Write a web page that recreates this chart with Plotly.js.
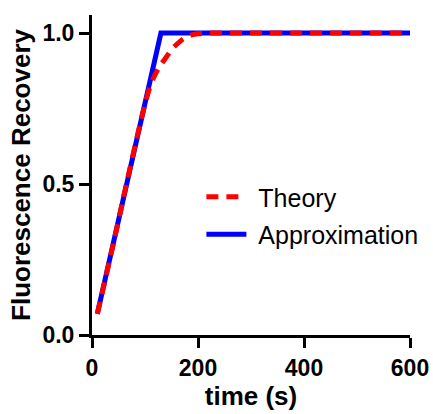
<!DOCTYPE html>
<html>
<head>
<meta charset="utf-8">
<script src="https://cdn.plot.ly/plotly-3.0.1.min.js"></script>
<style>html,body{margin:0;padding:0;background:#fff;}#chart{width:433px;height:414px;}</style>
</head>
<body>
<div id="chart"></div>
<script>
// Approximation (piecewise linear)
var approxTime = [10, 130, 600];
var approxValue = [0.07, 1.0, 1.0];
// Theory
var theoryTime = [10, 40, 70, 100, 110, 120, 130, 140, 150, 160, 170, 180, 190, 200, 220, 260, 300, 400, 500, 600];
var theoryValue = [0.07, 0.30, 0.54, 0.765, 0.825, 0.866, 0.895, 0.92, 0.945, 0.963, 0.978, 0.988, 0.995, 0.998, 1.0, 1.0, 1.0, 1.0, 1.0, 1.0];
var xTicks = [0, 200, 400, 600];
var yTicks = [0.0, 0.5, 1.0];

var FONT = 'Liberation Sans, Arial, Helvetica, sans-serif';

var traces = [
  {x: approxTime, y: approxValue, type: 'scatter', mode: 'lines', name: '\u00a0Approximation',
   legendgroup: 'b', legendrank: 2, line: {color: '#0000FF', width: 5}},
  {x: theoryTime, y: theoryValue, type: 'scatter', mode: 'lines', name: '\u00a0Theory',
   legendgroup: 'a', legendrank: 1, line: {color: '#FF0000', width: 5, dash: '12px,8px', shape: 'spline'}}
];

var layout = {
  width: 433, height: 414,
  margin: {l: 92, r: 23, t: 15, b: 79, autoexpand: false},
  paper_bgcolor: '#fff', plot_bgcolor: '#fff',
  font: {family: FONT, color: '#000'},
  xaxis: {
    range: [0, 600], tickvals: xTicks, ticktext: xTicks.map(String), automargin: false,
    showline: true, linewidth: 3, linecolor: '#000', showgrid: false, zeroline: false,
    ticks: 'outside', ticklen: 10, tickwidth: 3, tickcolor: '#000',
    tickfont: {size: 23, family: FONT, weight: 'bold'},
    title: {text: 'time (s)', font: {size: 26, family: FONT, weight: 'bold'}, standoff: 8}
  },
  yaxis: {
    range: [0, 1.06], tickvals: yTicks, ticktext: yTicks.map(function(v){return v.toFixed(1);}), automargin: true,
    showline: true, linewidth: 3, linecolor: '#000', showgrid: false, zeroline: false,
    ticks: 'outside', ticklen: 10, tickwidth: 3, tickcolor: '#000',
    tickfont: {size: 23, family: FONT, weight: 'bold'},
    title: {text: 'Fluorescence Recovery', font: {size: 26, family: FONT, weight: 'bold'}, standoff: 5}
  },
  showlegend: true,
  legend: {x: 0.344, y: 0.503, xanchor: 'left', yanchor: 'top', bgcolor: 'rgba(0,0,0,0)',
    font: {size: 25, family: FONT}, traceorder: 'grouped', tracegroupgap: 2, itemwidth: 40}
};

Plotly.newPlot('chart', traces, layout, {displayModeBar: false, staticPlot: true});
</script>
</body>
</html>
